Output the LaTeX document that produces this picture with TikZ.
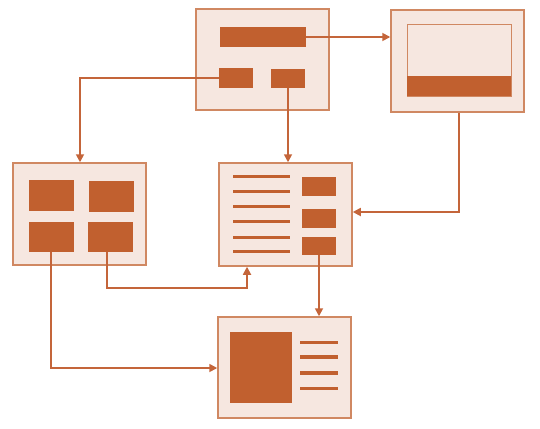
\documentclass[tikz,border=0pt]{standalone}
\usetikzlibrary{arrows.meta}
\definecolor{dark}{HTML}{C1602F}
\definecolor{edge}{HTML}{D08862}
\definecolor{light}{HTML}{F6E7E0}
\definecolor{linec}{HTML}{C4653A}
\begin{document}
\begin{tikzpicture}[x=1pt,y=-1pt,
  panel/.style={draw=edge,fill=light,line width=1.5pt,inner sep=0pt,minimum width=133pt},
  blockf/.style={fill=dark,draw=none,inner sep=0pt},
  inner/.style={draw=edge,fill=light,line width=1pt,inner sep=0pt},
  bar/.style={fill=dark,draw=none,inner sep=0pt,minimum height=3.2pt},
  arr/.style={draw=linec,line width=1.7pt,-{Triangle[length=8pt,width=8pt]}}]
\useasboundingbox (0,0) rectangle (540,428);
% panels
\node[panel,minimum height=101pt] (A) at (262.5,59.5) {};
\node[panel,minimum height=102pt] (B) at (457.5,61) {};
\node[panel,minimum height=102pt] (C) at (79.5,214) {};
\node[panel,minimum height=103pt] (D) at (285.5,214.5) {};
\node[panel,minimum height=101pt] (E) at (284.5,367.5) {};
% A content
\node[blockf,minimum width=34pt,minimum height=20pt] (a2) at (236,78) {};
\node[blockf,minimum width=86pt,minimum height=20pt] (a1) at (263,37) {};
\node[blockf,minimum width=34pt,minimum height=19pt] (a3) at (288,78.5) {};
% B content
\node[inner,minimum width=104pt,minimum height=71pt] (b1) at (459,60.5) {};
\node[blockf,minimum width=104pt,minimum height=20pt] (b2) at (459,86) {};
% C content
\node[blockf,minimum width=45pt,minimum height=31pt] (c1) at (51,195.5) {};
\node[blockf,minimum width=45pt,minimum height=31pt] (c2) at (111.5,196.5) {};
\node[blockf,minimum width=45pt,minimum height=30pt] (c3) at (51,237) {};
\node[blockf,minimum width=45pt,minimum height=30pt] (c4) at (110.5,237) {};
% D content
\foreach \y [count=\i] in {176.7,191.3,206.3,221.7,237.3,251.7}
  \node[bar,minimum width=57pt] (dl\i) at (261.5,\y) {};
\node[blockf,minimum width=34pt,minimum height=19pt] (d1) at (319,186.5) {};
\node[blockf,minimum width=34pt,minimum height=19pt] (d2) at (319,218.5) {};
\node[blockf,minimum width=34pt,minimum height=18pt] (d3) at (319,246) {};
% E content
\node[blockf,minimum width=62pt,minimum height=71pt] (e1) at (261,367.5) {};
\foreach \y [count=\i] in {342.3,357,373,388.3}
  \node[bar,minimum width=38pt] (el\i) at (319,\y) {};
% connectors
\draw[arr] (a1.east) -- (a1.east -| B.west);
\draw[arr] (a2.west) -| ([xshift=0.5pt]C.north);
\draw[arr] (a3.south) -- (a3.south |- D.north);
\coordinate (k0) at (459,212);
\draw[arr] (B.south -| k0) |- (k0 -| D.east);
\coordinate (k1) at (247,288);
\draw[arr] ([xshift=-3.5pt]c4.south) |- (k1) -- (k1 |- D.south);
\draw[arr] (c3.south) |- ([yshift=-0.5pt]E.west);
\draw[arr] (d3.south) -- (d3.south |- E.north);
\end{tikzpicture}
\end{document}
